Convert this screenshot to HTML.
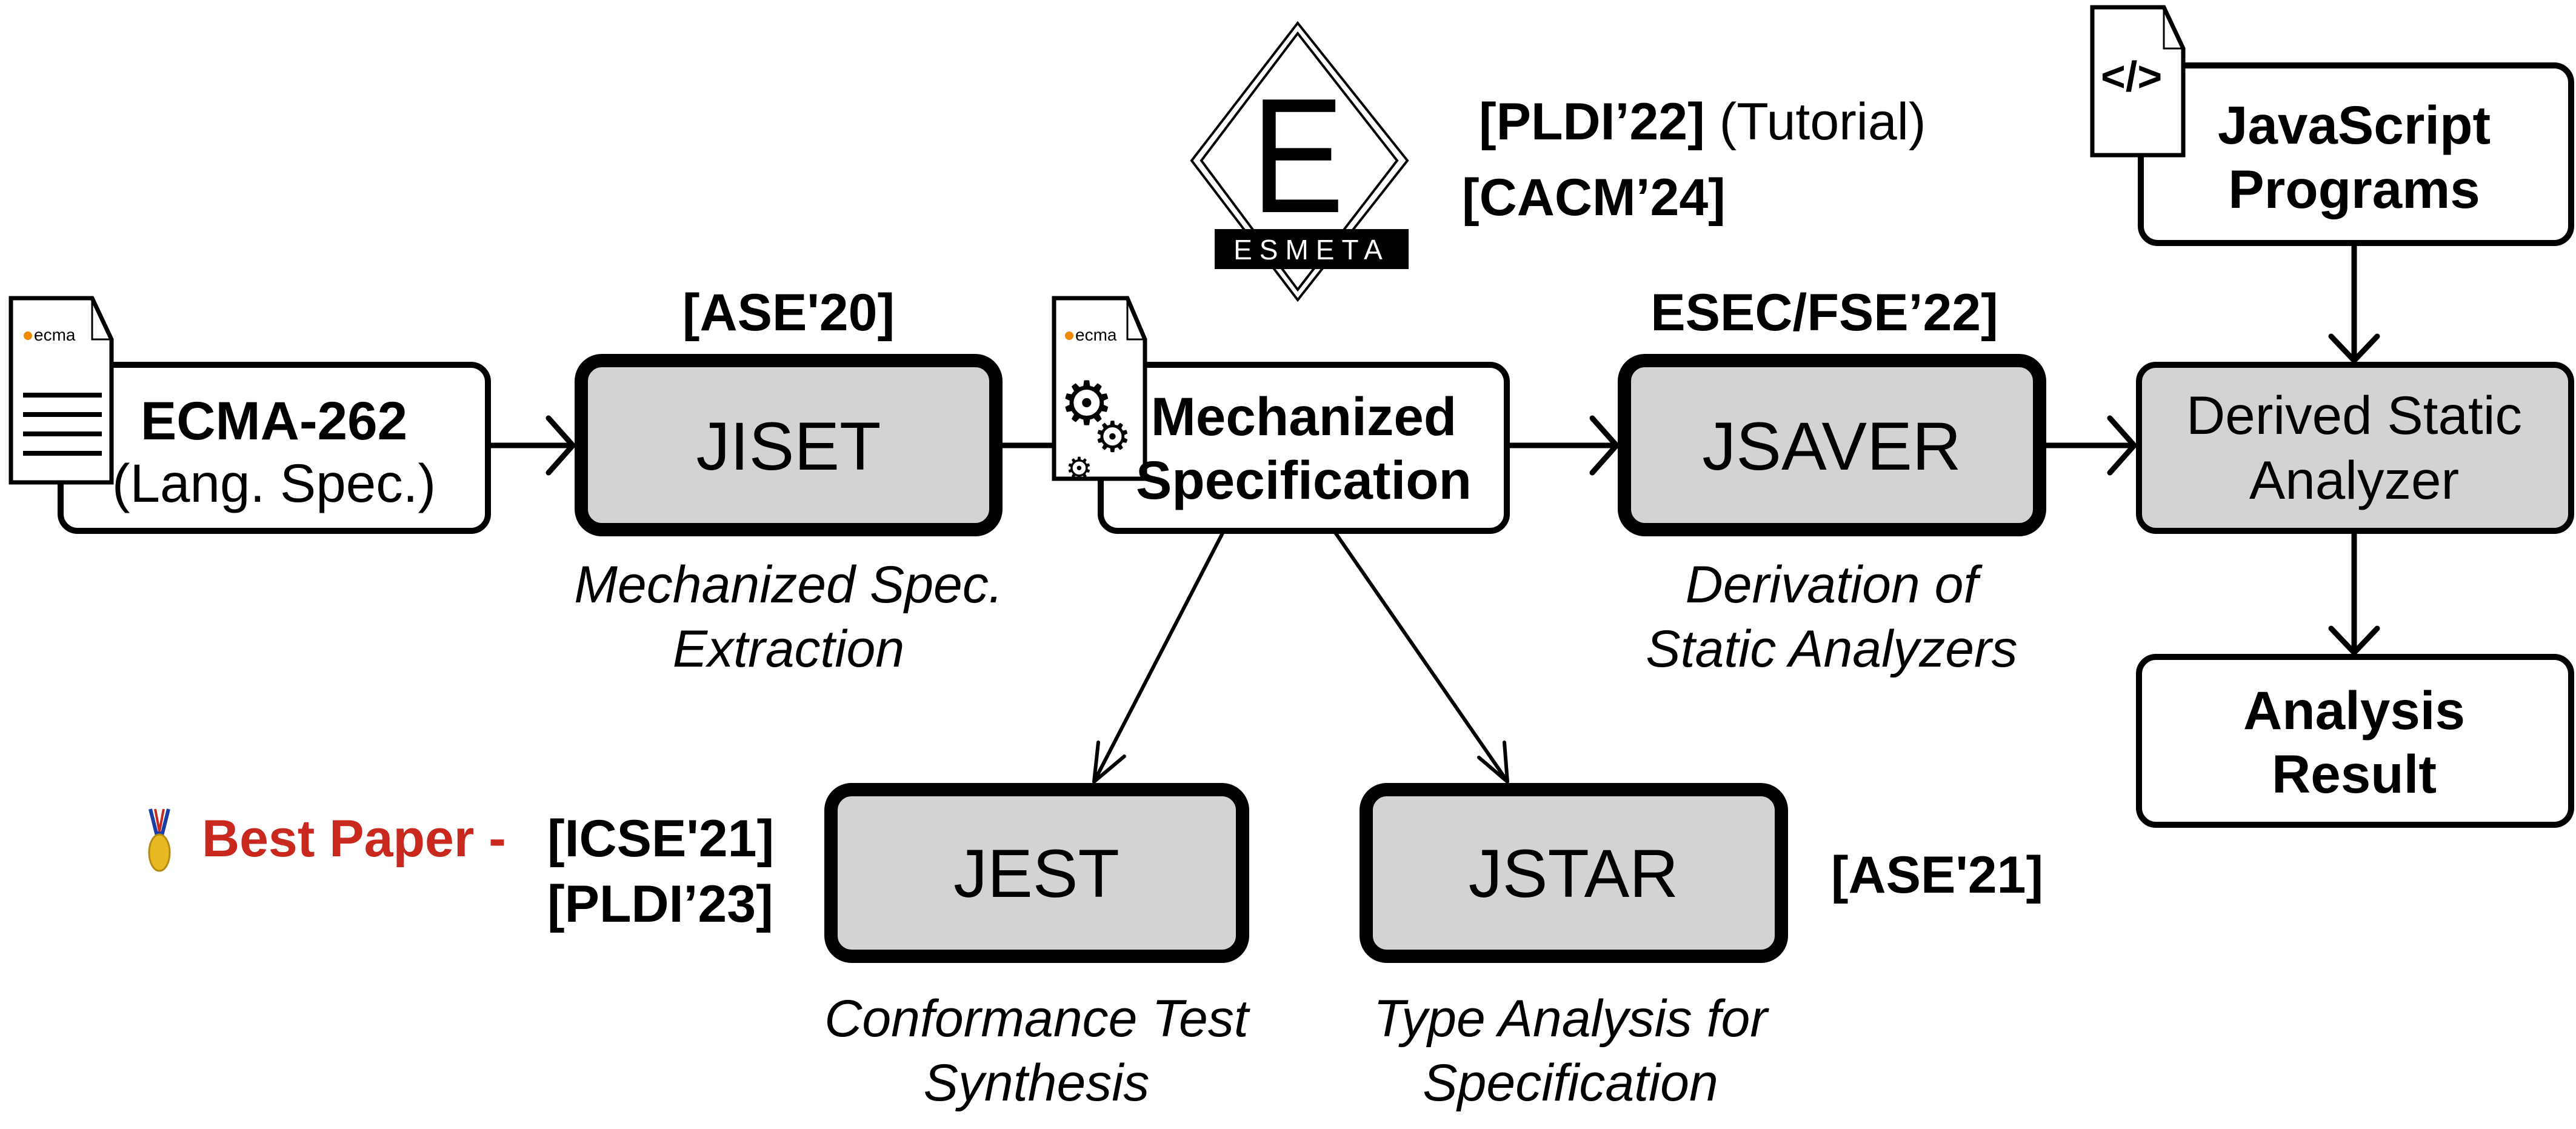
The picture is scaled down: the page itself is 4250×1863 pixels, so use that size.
<!DOCTYPE html>
<html><head><meta charset="utf-8"><style>
html,body{margin:0;padding:0;background:#fff}
svg{display:block}
text{font-family:"Liberation Sans",sans-serif}
</style></head><body>
<svg width="4250" height="1863" viewBox="0 0 4250 1863" xmlns="http://www.w3.org/2000/svg">
<g fill="none" stroke="#000" stroke-width="9" stroke-linecap="round" stroke-linejoin="round">
<line x1="805" y1="735" x2="940" y2="735"/><polyline points="905,690 945,735 905,780"/>
<line x1="1653" y1="735" x2="1808" y2="735"/><polyline points="1773,690 1813,735 1773,780"/>
<line x1="2486" y1="735" x2="2662" y2="735"/><polyline points="2627,690 2667,735 2627,780"/>
<line x1="3375" y1="735" x2="3516" y2="735"/><polyline points="3481,690 3521,735 3481,780"/>
<line x1="3884" y1="401" x2="3884" y2="592"/><polyline points="3846,555 3884,595 3922,555"/>
<line x1="3884" y1="876" x2="3884" y2="1074"/><polyline points="3846,1037 3884,1077 3922,1037"/>
<line x1="2019" y1="876" x2="1806" y2="1288" stroke-width="6"/><polyline points="1812,1225 1805,1290 1855,1248" stroke-width="6"/>
<line x1="2201" y1="876" x2="2486" y2="1288" stroke-width="6"/><polyline points="2440,1250 2487,1290 2482,1225" stroke-width="6"/>
</g>
<g stroke="#000">
<rect x="100" y="602" width="705" height="274" rx="28" fill="#fff" stroke-width="10"/>
<rect x="959" y="595" width="684" height="279" rx="34" fill="#d3d3d3" stroke-width="22"/>
<rect x="1816" y="602" width="670" height="274" rx="28" fill="#fff" stroke-width="10"/>
<rect x="2680" y="595" width="685" height="279" rx="34" fill="#d3d3d3" stroke-width="22"/>
<rect x="3529" y="602" width="713" height="274" rx="28" fill="#d3d3d3" stroke-width="10"/>
<rect x="3532" y="108" width="710" height="293" rx="28" fill="#fff" stroke-width="10"/>
<rect x="3529" y="1084" width="713" height="277" rx="28" fill="#fff" stroke-width="10"/>
<rect x="1371" y="1303" width="679" height="275" rx="34" fill="#d3d3d3" stroke-width="22"/>
<rect x="2254" y="1303" width="685" height="275" rx="34" fill="#d3d3d3" stroke-width="22"/>
</g>
<g stroke="#000" stroke-width="7" fill="#fff">
<path d="M18,492 L152,492 L184,560 L184,796 L18,796 Z"/><path d="M152,492 L152,560 L184,560" fill="none" stroke-width="3"/>
<path d="M1739,492 L1860,492 L1889,560 L1889,790 L1739,790 Z"/><path d="M1860,492 L1860,560 L1889,560" fill="none" stroke-width="3"/>
<path d="M3452,12 L3570,12 L3602,80 L3602,256 L3452,256 Z"/><path d="M3570,12 L3570,80 L3602,80" fill="none" stroke-width="3"/>
</g>
<g fill="#000">
<rect x="38" y="648" width="130" height="8"/><rect x="38" y="680" width="130" height="8"/><rect x="38" y="712" width="130" height="8"/><rect x="38" y="744" width="130" height="8"/>
<circle cx="46" cy="554" r="7" fill="#f08a00"/><text x="56" y="562" font-size="28">ecma</text>
<circle cx="1764" cy="554" r="7" fill="#f08a00"/><text x="1774" y="562" font-size="28">ecma</text>
<text x="1748" y="700" font-size="100">⚙</text><text x="1804" y="745" font-size="70">⚙</text><text x="1758" y="790" font-size="50">⚙</text>
<text x="3466" y="150" font-size="70" font-weight="bold" font-family="DejaVu Sans Mono">&lt;/&gt;</text>
</g>
<g stroke="#000" fill="none" stroke-width="4">
<polygon points="2141,38 2322,265 2141,495 1966,265"/>
<polygon points="2141,55 2305,265 2141,478 1982,265"/>
</g>
<rect x="2004" y="378" width="320" height="66" fill="#000"/>
<text x="2164" y="428" font-size="46" fill="#fff" text-anchor="middle" letter-spacing="12" font-family="DejaVu Sans">ESMETA</text>
<text x="2141" y="350" font-size="270" text-anchor="middle" font-family="DejaVu Sans" font-weight="300" transform="translate(2141 0) scale(0.85 1) translate(-2141 0)">E</text>
<g font-size="89" text-anchor="middle">
<text x="452" y="725" font-weight="bold">ECMA-262</text>
<text x="452" y="828">(Lang. Spec.)</text>
<text x="2151" y="718" font-weight="bold">Mechanized</text>
<text x="2151" y="823" font-weight="bold">Specification</text>
<text x="3884" y="716">Derived Static</text>
<text x="3884" y="823">Analyzer</text>
<text x="3884" y="237" font-weight="bold">JavaScript</text>
<text x="3884" y="343" font-weight="bold">Programs</text>
<text x="3884" y="1203" font-weight="bold">Analysis</text>
<text x="3884" y="1308" font-weight="bold">Result</text>
</g>
<g font-size="86" text-anchor="middle">
<text x="1301" y="545" font-weight="bold">[ASE'20]</text>
<text x="3010" y="545" font-weight="bold">ESEC/FSE’22]</text>
<text x="3196" y="1473" font-weight="bold">[ASE'21]</text>
<text x="1301" y="994" font-style="italic">Mechanized Spec.</text>
<text x="1301" y="1100" font-style="italic">Extraction</text>
<text x="3022" y="994" font-style="italic">Derivation of</text>
<text x="3022" y="1100" font-style="italic">Static Analyzers</text>
<text x="1710" y="1710" font-style="italic">Conformance Test</text>
<text x="1710" y="1816" font-style="italic">Synthesis</text>
<text x="2591" y="1710" font-style="italic">Type Analysis for</text>
<text x="2591" y="1816" font-style="italic">Specification</text>
</g>
<g font-size="86" font-weight="bold">
<text x="2440" y="230">[PLDI’22] <tspan font-weight="normal">(Tutorial)</tspan></text>
<text x="2412" y="355">[CACM’24]</text>
<text x="333" y="1413" fill="#c8281e">Best Paper -</text>
<text x="903" y="1413">[ICSE'21]</text>
<text x="903" y="1521">[PLDI’23]</text>
</g>
<g font-size="112" text-anchor="middle" font-family="DejaVu Sans" font-weight="300">
<text x="1301" y="775">JISET</text>
<text x="3022" y="775">JSAVER</text>
<text x="1710" y="1480">JEST</text>
<text x="2596" y="1480">JSTAR</text>
</g>
<path d="M248,1335 L258,1375 L268,1375 L278,1335" stroke="#1a3ea8" stroke-width="6" fill="none"/>
<path d="M256,1335 L263,1372 L270,1335" stroke="#c8281e" stroke-width="4" fill="none"/>
<ellipse cx="263" cy="1407" rx="17" ry="30" fill="#e8b923" stroke="#b58a10" stroke-width="3"/>
</svg>
</body></html>
